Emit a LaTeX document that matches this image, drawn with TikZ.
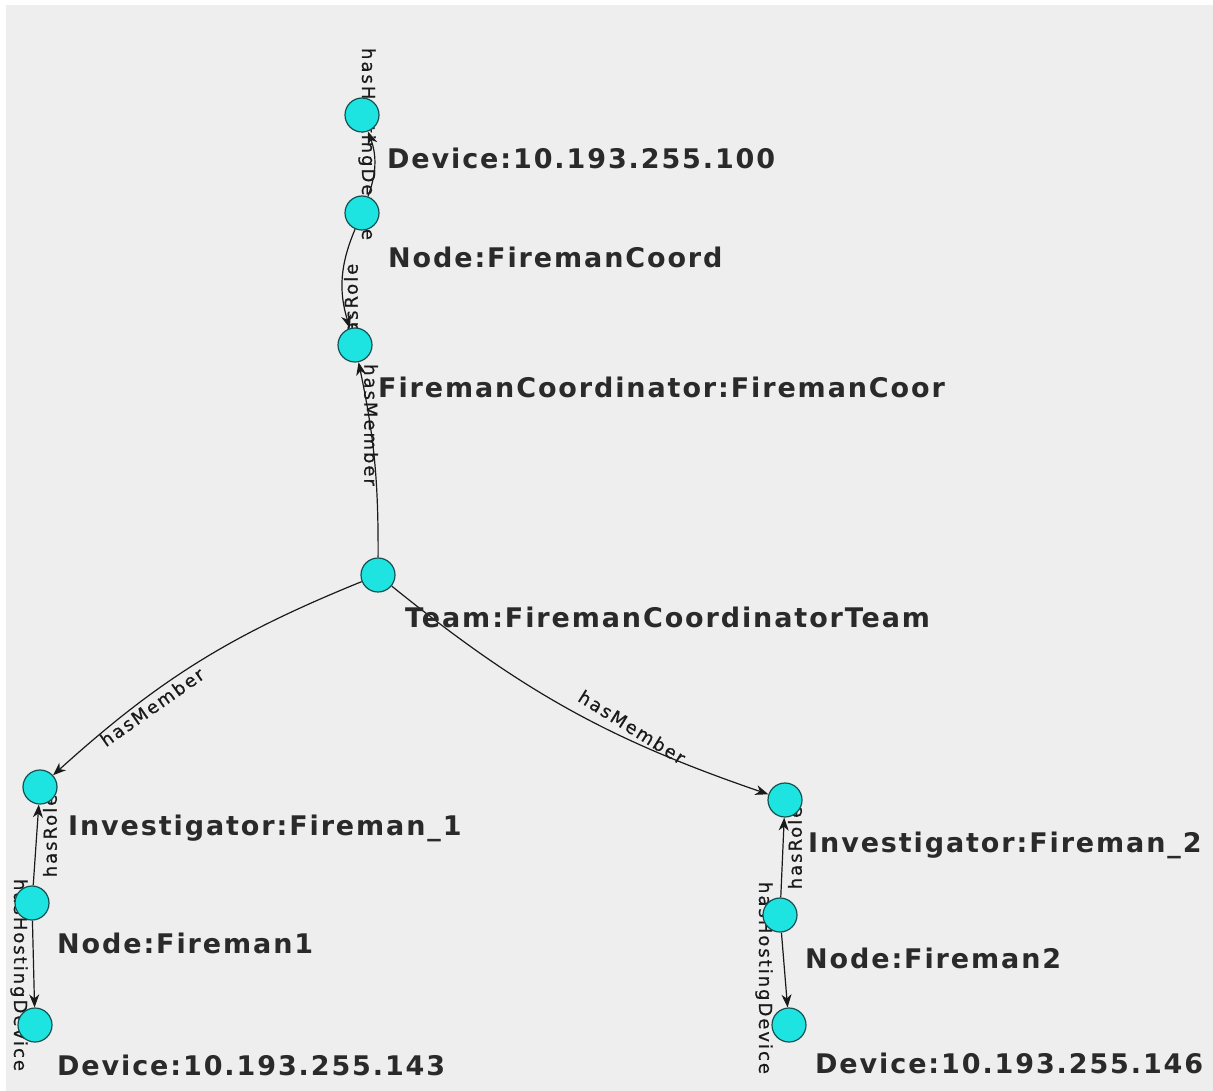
\documentclass[tikz,border=0pt]{standalone}
\usepackage{fontspec}
\usetikzlibrary{arrows.meta}
\newfontfamily\lblfont[LetterSpace=7]{DejaVu Sans}
\newfontfamily\edgefont[LetterSpace=11,FakeBold=0.6]{DejaVu Sans}
\definecolor{bggray}{HTML}{EEEEEE}
\definecolor{nodefill}{RGB}{30,228,225}
\definecolor{nodeline}{RGB}{20,80,80}
\definecolor{txt}{HTML}{2A2A2A}
\definecolor{lnk}{HTML}{1A1A1A}
\pgfdeclarelayer{bg}
\pgfdeclarelayer{edges}
\pgfsetlayers{bg,edges,main}
\tikzset{
  vertex/.style={circle,draw=nodeline,fill=nodefill,line width=1.2pt,minimum size=34pt,inner sep=0pt},
  vlabel/.style={anchor=west,inner sep=0pt,text=txt,font=\lblfont\bfseries\fontsize{27}{30}\selectfont},
  elabel/.style={inner sep=0pt,text=lnk,font=\edgefont\fontsize{18}{20}\selectfont},
  edge/.style={draw=lnk,line width=1.2pt,-{Stealth[length=13pt,width=10pt,inset=4pt]}}
}
\begin{document}
\begin{tikzpicture}[x=1pt,y=-1pt]
\begin{pgfonlayer}{bg}
\fill[white] (0,0) rectangle (1213,1091);
\fill[bggray] (6,5) rectangle (1213,1091);
\end{pgfonlayer}
\useasboundingbox (0,0) rectangle (1213,1091);

% vertices
\node[vertex] (d100) at (362,115) {};
\node[vertex] (nfc) at (362,213) {};
\node[vertex] (fc) at (355,345) {};
\node[vertex] (team) at (378,575) {};
\node[vertex] (inv1) at (40,787) {};
\node[vertex] (nf1) at (32,903) {};
\node[vertex] (d143) at (35,1025) {};
\node[vertex] (inv2) at (785,800) {};
\node[vertex] (nf2) at (780,915) {};
\node[vertex] (d146) at (789,1025) {};

% vertex labels
\node[vlabel] (td100) at (387,158) {Device:10.193.255.100};
\node[vlabel] (tnfc) at (388,257) {Node:FiremanCoord};
\node[vlabel] (tfc) at (378,387) {FiremanCoordinator:FiremanCoor};
\node[vlabel] (tteam) at (405,617) {Team:FiremanCoordinatorTeam};
\node[vlabel] (tinv1) at (68,828) {Investigator:Fireman\_1};
\node[vlabel] (tnf1) at (57,943) {Node:Fireman1};
\node[vlabel] (td143) at (57,1065) {Device:10.193.255.143};
\node[vlabel] (tinv2) at (808,845) {Investigator:Fireman\_2};
\node[vlabel] (tnf2) at (805,958) {Node:Fireman2};
\node[vlabel] (td146) at (815,1063) {Device:10.193.255.146};

\begin{pgfonlayer}{edges}
\draw[edge] (nfc) to[bend right=20] (d100);
\draw[edge] (nfc) to[bend right=20] (fc);
\draw[edge] (team) to[bend right=6] (fc);
\draw[edge] (team) to[bend right=10] (inv1);
\draw[edge] (team) to[bend right=10] (inv2);
\draw[edge] (nf1) -- (inv1);
\draw[edge] (nf1) -- (d143);
\draw[edge] (nf2) -- (inv2);
\draw[edge] (nf2) -- (d146);
% edge labels
\node[elabel,rotate=-90] (l1) at (367,144) {hasHostingDevice};
\node[elabel,rotate=90] (l2) at (351,305) {hasRole};
\node[elabel,rotate=-90] (l3) at (371,425) {hasMember};
\node[elabel,rotate=35] (l4) at (152,707) {hasMember};
\node[elabel,rotate=-32] (l5) at (632,727) {hasMember};
\node[elabel,rotate=90] (l6) at (50,836) {hasRole};
\node[elabel,rotate=-90] (l7) at (19,975) {hasHostingDevice};
\node[elabel,rotate=90] (l8) at (795,848) {hasRole};
\node[elabel,rotate=-90] (l9) at (764,978) {hasHostingDevice};
\end{pgfonlayer}
\end{tikzpicture}
\end{document}
